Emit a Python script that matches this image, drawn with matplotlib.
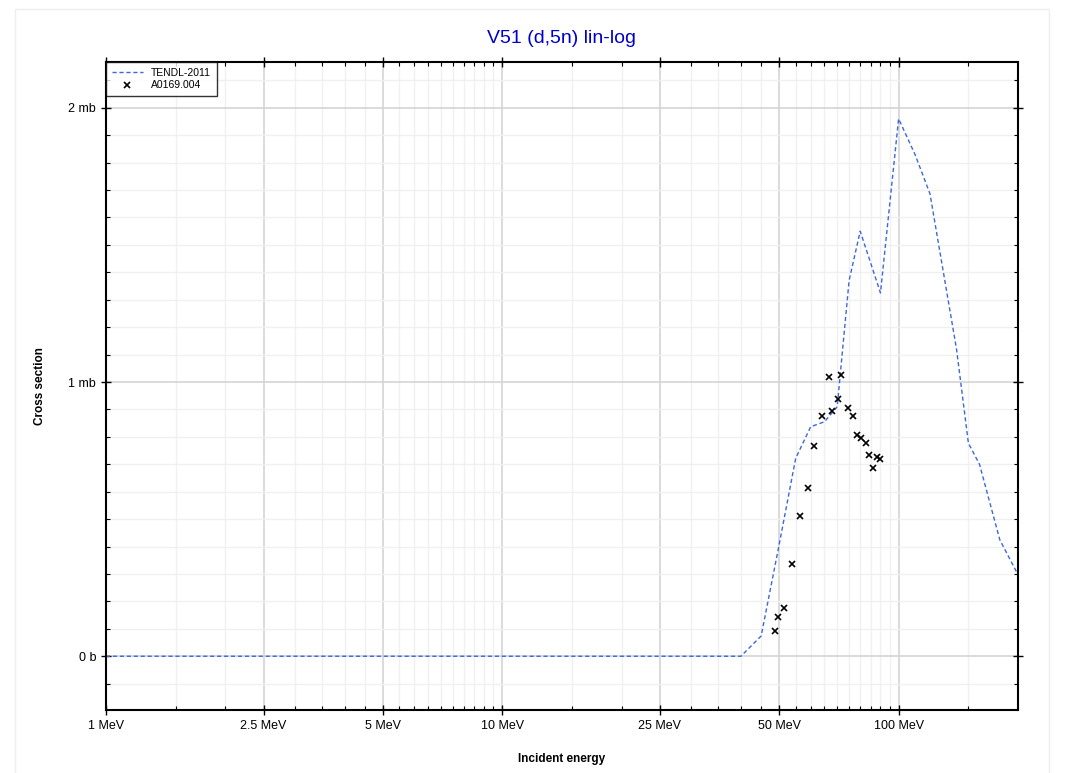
import matplotlib.pyplot as plt
from matplotlib.ticker import FixedLocator, FuncFormatter
from matplotlib.patches import Rectangle

plt.rcParams['font.family'] = ['Liberation Sans', 'DejaVu Sans']

# TENDL-2011 evaluation (energy in MeV, cross section in mb)
tendl_e = [1, 5, 10, 20, 30, 40, 45, 50, 55, 60, 65, 70, 75, 80, 90, 100,
           110, 120, 140, 150, 160, 180, 200]
tendl_xs = [0, 0, 0, 0, 0, 0, 0.074, 0.41, 0.722, 0.837, 0.855, 0.91, 1.37,
            1.55, 1.325, 1.96, 1.83, 1.686, 1.12, 0.777, 0.70, 0.425, 0.298]

# EXFOR A0169.004
exp_e = [48.8, 49.7, 51.3, 53.9, 56.5, 59.1, 61.2, 63.9, 66.9, 68.1, 70.4,
         71.7, 74.4, 76.7, 78.5, 80.5, 82.8, 84.2, 88.1, 89.8, 86.2]
exp_xs = [0.092, 0.144, 0.175, 0.335, 0.512, 0.612, 0.765, 0.876, 1.017, 0.896,
          0.937, 1.027, 0.907, 0.876, 0.807, 0.797, 0.777, 0.735, 0.728, 0.719,
          0.688]

major_x = [1, 2.5, 5, 10, 25, 50, 100]
minor_x = [1.5, 2, 3, 3.5, 4, 4.5, 5.5, 6, 6.5, 7, 7.5, 8, 8.5, 9, 9.5,
           15, 20, 30, 35, 40, 45, 55, 60, 65, 70, 75, 80, 85, 90, 95, 150]
major_y = [0, 1, 2]
minor_y = [-0.1, 0.1, 0.2, 0.3, 0.4, 0.5, 0.6, 0.7, 0.8, 0.9, 1.1, 1.2, 1.3,
           1.4, 1.5, 1.6, 1.7, 1.8, 1.9, 2.1]

fig = plt.figure(figsize=(10.67, 7.73), dpi=100)
fig.patches.append(Rectangle((0.014, -0.01), 0.969, 0.998, transform=fig.transFigure,
                             fill=False, edgecolor='#eeeeee', linewidth=1))
ax = fig.add_axes([0.0993, 0.0815, 0.8547, 0.8383])

ax.plot(tendl_e, tendl_xs, color='#3d66e0', linestyle=(0, (3, 2)), linewidth=1,
        label='TENDL-2011')
ax.plot(exp_e, exp_xs, linestyle='none', marker='x', color='black', markersize=4,
        markeredgewidth=1.2, label='A0169.004')

ax.set_xscale('log')
ax.set_xlim(1, 200)
ax.set_ylim(-0.196, 2.167)

ax.xaxis.set_major_locator(FixedLocator(major_x))
ax.xaxis.set_minor_locator(FixedLocator(minor_x))
ax.xaxis.set_major_formatter(FuncFormatter(lambda v, p: '%g MeV' % v))
ax.xaxis.set_minor_formatter(FuncFormatter(lambda v, p: ''))
ax.yaxis.set_major_locator(FixedLocator(major_y))
ax.yaxis.set_minor_locator(FixedLocator(minor_y))
ax.yaxis.set_major_formatter(FuncFormatter(lambda v, p: '0 b' if v == 0 else '%g mb' % v))

ax.grid(which='major', color='#d4d4d4', linewidth=1.2)
ax.grid(which='minor', color='#f0f0f0', linewidth=1.0)
ax.set_axisbelow(True)

ax.tick_params(which='major', direction='inout', length=7, width=1, labelsize=9,
               top=True, right=True)
ax.tick_params(which='minor', direction='in', length=3, width=0.8, top=True, right=True)
for s in ax.spines.values():
    s.set_linewidth(1.5)

ax.set_title('V51 (d,5n) lin-log', color='#0000cc', fontsize=14, pad=14)
ax.set_xlabel('Incident energy', fontweight='bold', fontsize=8.5, labelpad=15)
ax.set_ylabel('Cross section', fontweight='bold', fontsize=8.5, labelpad=16)

leg = ax.legend(loc='upper left', fontsize=7.5, frameon=True, fancybox=False,
                borderaxespad=0, handlelength=3, borderpad=0.55, labelspacing=0.25)
leg.get_frame().set_edgecolor('black')
leg.get_frame().set_linewidth(1)

plt.savefig('out.png', dpi=100)
